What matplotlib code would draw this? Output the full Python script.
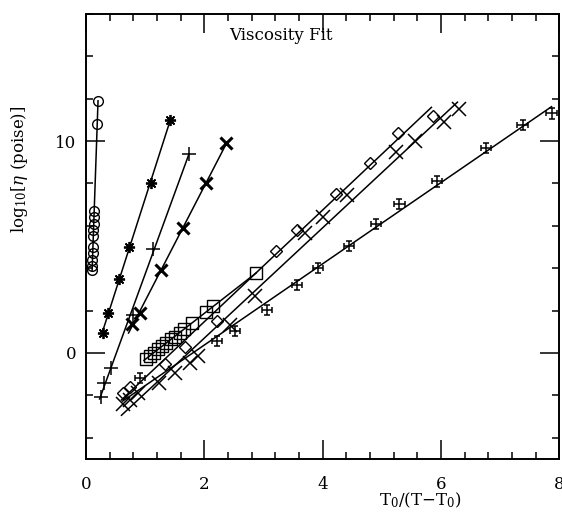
import matplotlib
matplotlib.use('Agg')
import matplotlib.pyplot as plt
import numpy as np
from matplotlib.ticker import MultipleLocator

plt.rcParams['font.family'] = 'DejaVu Serif'
plt.rcParams['mathtext.fontset'] = 'dejavuserif'

# log10 viscosity against reduced temperature T0/(T-T0), one list pair per liquid
circ_x = [0.21, 0.19, 0.13, 0.13, 0.13, 0.12, 0.12, 0.12, 0.12, 0.11, 0.11, 0.11]
circ_y = [11.9, 10.8, 6.7, 6.4, 6.1, 5.8, 5.5, 5.0, 4.7, 4.4, 4.1, 3.9]

star_x = [0.29, 0.37, 0.56, 0.73, 1.10, 1.42]
star_y = [0.95, 1.9, 3.5, 5.0, 8.0, 11.0]

plus_x = [0.25, 0.30, 0.42, 0.80, 1.13, 1.74]
plus_y = [-2.1, -1.4, -0.7, 1.8, 4.9, 9.4]

boldx_x = [0.78, 0.91, 1.27, 1.64, 2.03, 2.37]
boldx_y = [1.35, 1.9, 3.9, 5.9, 8.0, 9.9]

sq_x = [1.01, 1.08, 1.15, 1.22, 1.29, 1.36, 1.43, 1.50, 1.59, 1.66, 1.79, 2.03, 2.15, 2.88]
sq_y = [-0.28, -0.14, 0.01, 0.17, 0.33, 0.49, 0.65, 0.77, 0.93, 1.12, 1.40, 1.95, 2.22, 3.77]

dia_x = [0.62, 0.74, 1.33, 1.67, 2.21, 3.21, 3.56, 4.22, 4.80, 5.27, 5.86]
dia_y = [-1.9, -1.6, -0.5, 0.28, 1.51, 4.81, 5.8, 7.5, 8.96, 10.4, 11.2]

x_x = [0.63, 0.75, 0.88, 1.24, 1.50, 1.76, 1.90, 2.43, 2.85, 3.70, 4.00, 4.41, 5.24, 5.56, 6.05, 6.30]
x_y = [-2.4, -2.2, -1.9, -1.4, -0.95, -0.47, -0.15, 1.3, 2.7, 5.65, 6.4, 7.45, 9.5, 10.0, 10.9, 11.5]

err_x = [0.91, 2.21, 2.52, 3.06, 3.56, 3.92, 4.44, 4.91, 5.30, 5.93, 6.77, 7.38, 7.87]
err_y = [-1.18, 0.57, 1.04, 2.03, 3.2, 4.0, 5.05, 6.08, 7.03, 8.1, 9.67, 10.76, 11.3]

# x range covered by each fitted line
fit_star = (0.27, 1.42)
fit_plus = (0.23, 1.74)
fit_boldx = (0.72, 2.37)
fit_sq = (0.98, 2.88)
fit_dia = (0.60, 5.84)
fit_x = (0.60, 6.28)
fit_err = (0.62, 7.87)


def fit_line(ax, xs, ys, rng):
    # straight-line fit y = a*x + b over the given range
    a, b = np.polyfit(xs, ys, 1)
    xx = np.array(rng)
    ax.plot(xx, a * xx + b, color='black', lw=1.1, zorder=2)


fig = plt.figure(figsize=(5.62, 5.15), dpi=100)
ax = fig.add_axes([0.153, 0.109, 0.842, 0.864])

# the circles rise almost vertically, so fit x against y instead
a, b = np.polyfit(circ_y, circ_x, 1)
yy = np.array([3.9, 11.9])
ax.plot(a * yy + b, yy, color='black', lw=1.1, zorder=2)
ax.plot(circ_x, circ_y, 'o', mfc='none', mec='black', ms=7, mew=1.0, zorder=3)

fit_line(ax, star_x, star_y, fit_star)
ax.plot(star_x, star_y, marker=(8, 2, 0), ls='none', color='black', ms=8, mew=1.3, zorder=3)

fit_line(ax, plus_x, plus_y, fit_plus)
ax.plot(plus_x, plus_y, '+', color='black', ms=10, mew=1.1, zorder=3)

fit_line(ax, boldx_x, boldx_y, fit_boldx)
ax.plot(boldx_x, boldx_y, 'x', color='black', ms=8, mew=2.2, zorder=3)

fit_line(ax, sq_x, sq_y, fit_sq)
ax.plot(sq_x, sq_y, 's', mfc='none', mec='black', ms=8, mew=1.0, zorder=3)

fit_line(ax, dia_x, dia_y, fit_dia)
ax.plot(dia_x, dia_y, 'D', mfc='none', mec='black', ms=6, mew=1.0, zorder=3)

fit_line(ax, x_x, x_y, fit_x)
ax.plot(x_x, x_y, 'x', color='black', ms=10, mew=1.1, zorder=3)

fit_line(ax, err_x, err_y, fit_err)
ax.errorbar(err_x, err_y, xerr=0.085, yerr=0.25, fmt='none', ecolor='black',
            elinewidth=1.1, capsize=2.5, capthick=1.1, zorder=3)

ax.set_xlim(0, 8)
ax.set_ylim(-5, 16)
ax.xaxis.set_major_locator(MultipleLocator(2))
ax.xaxis.set_minor_locator(MultipleLocator(0.4))
ax.yaxis.set_major_locator(MultipleLocator(10))
ax.yaxis.set_minor_locator(MultipleLocator(2))
ax.tick_params(which='both', direction='in', top=True, right=True, width=1.1, labelsize=12)
ax.tick_params(which='major', length=14)
ax.tick_params(which='minor', length=5)
ax.tick_params(axis='x', pad=12)
ax.tick_params(axis='y', pad=7)
for s in ax.spines.values():
    s.set_linewidth(1.4)

ax.text(3.29, 15.0, 'Viscosity Fit', ha='center', va='center', fontsize=12)

ax.set_xlabel(r'T$_0$/(T$-$T$_0$)', fontsize=12)
ax.xaxis.set_label_coords(0.706, -0.072)
ax.set_ylabel(r'log$_{10}$[$\eta$ (poise)]', fontsize=12)
ax.yaxis.set_label_coords(-0.118, 0.65)

plt.savefig('out.png', dpi=100)
